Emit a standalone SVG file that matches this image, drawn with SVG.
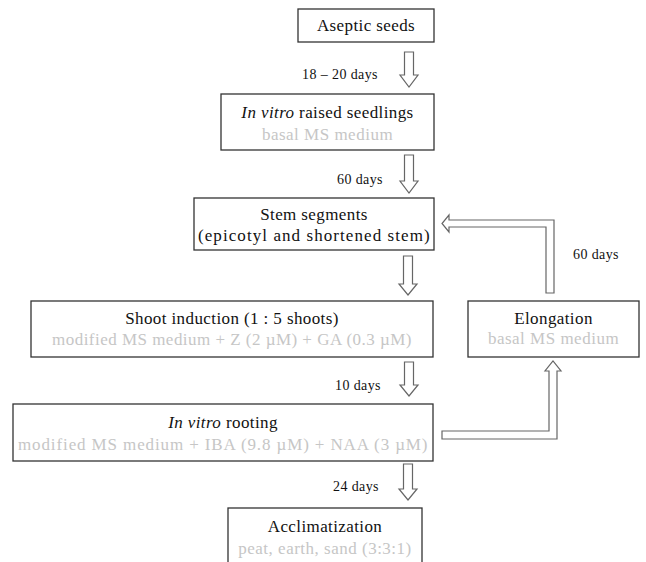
<svg xmlns="http://www.w3.org/2000/svg" width="646" height="562" viewBox="0 0 646 562">
<style>
.box{fill:#fff;stroke:#333;stroke-width:1.3}
.t{font-family:"Liberation Serif","Times New Roman",serif;font-size:17px;fill:#111;text-anchor:middle;letter-spacing:0.4px}
.g{font-family:"Liberation Serif","Times New Roman",serif;font-size:17px;fill:#c6c6c6;text-anchor:middle;letter-spacing:0.5px}
.d{font-family:"Liberation Serif","Times New Roman",serif;font-size:14px;fill:#111;letter-spacing:0.4px}
.arr{fill:#fff;stroke:#666;stroke-width:1.2;stroke-linejoin:miter}
</style>
<rect width="646" height="562" fill="#fff"/>
<g id="connectors">
<path class="arr" d="M404.5,52 H413.5 V75 H418 L409,87 L400,75 H404.5 Z"/>
<path class="arr" d="M404.5,155 H413.5 V181 H418 L409,193 L400,181 H404.5 Z"/>
<path class="arr" d="M403.5,256 H412.5 V284 H417 L408,295 L399,284 H403.5 Z"/>
<path class="arr" d="M404.5,362 H413.5 V385 H418 L409,396 L400,385 H404.5 Z"/>
<path class="arr" d="M403.5,464 H412.5 V489 H417 L408,500 L399,489 H403.5 Z"/>
<path class="arr" d="M546,293 V227 H449 V232 L442,223.5 L449,215 V220 H554 V293 Z"/>
<path class="arr" d="M442,431 H549 V371 H545 L553,361 L561,371 H557 V439 H442 Z"/>
<text class="d" x="302" y="79">18 – 20 days</text>
<text class="d" x="337" y="184">60 days</text>
<text class="d" x="573" y="259">60 days</text>
<text class="d" x="335" y="390">10 days</text>
<text class="d" x="333" y="491">24 days</text>
</g>
<g id="aseptic">
<rect class="box" x="298" y="9" width="136" height="33"/>
<text class="t" x="366" y="31">Aseptic seeds</text>
</g>
<g id="seedlings">
<rect class="box" x="221" y="94" width="213" height="56"/>
<text class="t" x="327.5" y="118"><tspan font-style="italic">In vitro</tspan> raised seedlings</text>
<text class="g" x="327.5" y="140">basal MS medium</text>
</g>
<g id="stem">
<rect class="box" x="194" y="198" width="240" height="52"/>
<text class="t" x="314" y="220">Stem segments</text>
<text class="t" x="314" y="241" textLength="232" lengthAdjust="spacing">(epicotyl and shortened stem)</text>
</g>
<g id="shoot">
<rect class="box" x="31" y="301" width="402" height="56"/>
<text class="t" x="232" y="324">Shoot induction (1 : 5 shoots)</text>
<text class="g" x="232" y="345" textLength="360" lengthAdjust="spacing">modified MS medium + Z (2 µM) + GA (0.3 µM)</text>
</g>
<g id="elongation">
<rect class="box" x="468" y="301" width="171" height="56"/>
<text class="t" x="553.5" y="324">Elongation</text>
<text class="g" x="553.5" y="344">basal MS medium</text>
</g>
<g id="rooting">
<rect class="box" x="13" y="404" width="420" height="57"/>
<text class="t" x="223" y="428"><tspan font-style="italic">In vitro</tspan> rooting</text>
<text class="g" x="223" y="450" textLength="410" lengthAdjust="spacing">modified MS medium + IBA (9.8 µM) + NAA (3 µM)</text>
</g>
<g id="acclimatization">
<rect class="box" x="228" y="508" width="194" height="70"/>
<text class="t" x="325" y="532">Acclimatization</text>
<text class="g" x="325" y="554">peat, earth, sand (3:3:1)</text>
</g>
</svg>
